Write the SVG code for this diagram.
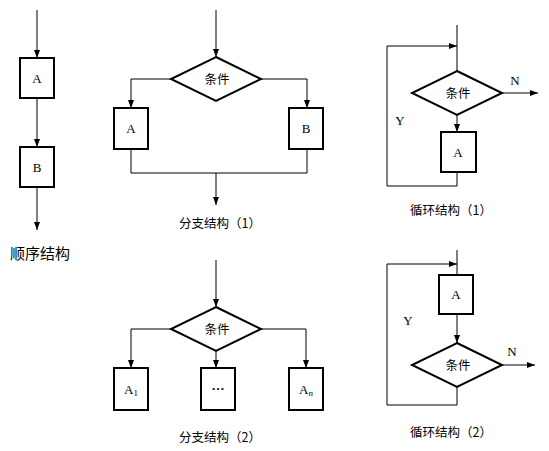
<svg xmlns="http://www.w3.org/2000/svg" width="549" height="451" viewBox="0 0 549 451">
<style>
.box{fill:#fff;stroke:#000;stroke-width:2}
.dia{fill:#fff;stroke:#000;stroke-width:2}
.ln{fill:none;stroke:#000;stroke-width:1}
.lat{font-family:"Liberation Serif",serif;font-size:13px;fill:#000}
.cjk{font-family:"Noto Sans CJK SC",sans-serif;font-size:12.5px;fill:#000}
.cond{font-family:"Noto Sans CJK SC",sans-serif;font-size:12.5px;fill:#000}
</style>
<defs>
<marker id="ar" viewBox="0 0 8 6" refX="8" refY="3" markerWidth="8" markerHeight="6" markerUnits="userSpaceOnUse" orient="auto">
<path d="M0,0 L8,3 L0,6 Z" fill="#000"/>
</marker>
</defs>
<g id="connectors">
<path class="ln" d="M37,10 V58" marker-end="url(#ar)"/>
<path class="ln" d="M37,98 V147" marker-end="url(#ar)"/>
<path class="ln" d="M37,187 V230" marker-end="url(#ar)"/>
<path class="ln" d="M216,10 V57" marker-end="url(#ar)"/>
<path class="ln" d="M171,79 H131 V108" marker-end="url(#ar)"/>
<path class="ln" d="M261,79 H307 V108" marker-end="url(#ar)"/>
<path class="ln" d="M131,149 V173 H307 V149"/>
<path class="ln" d="M216,173 V205" marker-end="url(#ar)"/>
<path class="ln" d="M457,25 V71"/>
<path class="ln" d="M502,93 H538" marker-end="url(#ar)"/>
<path class="ln" d="M457,115 V132" marker-end="url(#ar)"/>
<path class="ln" d="M457,172 V186 H387 V46 H457" marker-end="url(#ar)"/>
<path class="ln" d="M216,260 V307" marker-end="url(#ar)"/>
<path class="ln" d="M171,329 H131 V368" marker-end="url(#ar)"/>
<path class="ln" d="M261,329 H306 V368" marker-end="url(#ar)"/>
<path class="ln" d="M216,351 V368" marker-end="url(#ar)"/>
<path class="ln" d="M457,250 V275"/>
<path class="ln" d="M457,314 V343" marker-end="url(#ar)"/>
<path class="ln" d="M502,365 H535" marker-end="url(#ar)"/>
<path class="ln" d="M457,387 V405 H387 V264 H457" marker-end="url(#ar)"/>
</g>
<g id="seq-A"><rect class="box" x="20" y="58" width="34" height="40"/><text class="lat" x="37" y="83" text-anchor="middle">A</text></g>
<g id="seq-B"><rect class="box" x="20" y="147" width="34" height="40"/><text class="lat" x="37" y="172" text-anchor="middle">B</text></g>
<g id="seq-caption"><text class="cjk" x="40" y="259" text-anchor="middle" style="font-size:15px">顺序结构</text></g>

<g id="b1-cond"><polygon class="dia" points="216,57 261,79 216,101 171,79"/><text class="cond" x="217" y="84" text-anchor="middle">条件</text></g>
<g id="b1-A"><rect class="box" x="114" y="108" width="34" height="41"/><text class="lat" x="131" y="133" text-anchor="middle">A</text></g>
<g id="b1-B"><rect class="box" x="289" y="108" width="34" height="41"/><text class="lat" x="306" y="133" text-anchor="middle">B</text></g>
<g id="b1-caption"><text class="cjk" x="220" y="228" text-anchor="middle">分支结构（1）</text></g>

<g id="l1-cond"><polygon class="dia" points="457,71 502,93 457,115 412,93"/><text class="cond" x="458" y="98" text-anchor="middle">条件</text></g>
<g id="l1-A"><rect class="box" x="441" y="132" width="35" height="40"/><text class="lat" x="458" y="157" text-anchor="middle">A</text></g>
<g id="l1-labels"><text class="lat" x="515" y="85" text-anchor="middle">N</text><text class="lat" x="400" y="125" text-anchor="middle">Y</text></g>
<g id="l1-caption"><text class="cjk" x="451" y="215" text-anchor="middle">循环结构（1）</text></g>

<g id="b2-cond"><polygon class="dia" points="216,307 261,329 216,351 171,329"/><text class="cond" x="217" y="334" text-anchor="middle">条件</text></g>
<g id="b2-A1"><rect class="box" x="114" y="368" width="34" height="42"/><text class="lat" x="131" y="394" text-anchor="middle">A<tspan font-size="9" dy="2">1</tspan></text></g>
<g id="b2-dots"><rect class="box" x="201" y="368" width="34" height="42"/><text class="lat" x="218" y="390" text-anchor="middle" font-weight="bold">…</text></g>
<g id="b2-An"><rect class="box" x="289" y="368" width="34" height="42"/><text class="lat" x="306" y="394" text-anchor="middle">A<tspan font-size="9" dy="2" font-style="italic">n</tspan></text></g>
<g id="b2-caption"><text class="cjk" x="220" y="442" text-anchor="middle">分支结构（2）</text></g>

<g id="l2-A"><rect class="box" x="439" y="275" width="34" height="39"/><text class="lat" x="456" y="299" text-anchor="middle">A</text></g>
<g id="l2-cond"><polygon class="dia" points="457,343 502,365 457,387 412,365"/><text class="cond" x="458" y="370" text-anchor="middle">条件</text></g>
<g id="l2-labels"><text class="lat" x="512" y="356" text-anchor="middle">N</text><text class="lat" x="408" y="325" text-anchor="middle">Y</text></g>
<g id="l2-caption"><text class="cjk" x="451" y="437" text-anchor="middle">循环结构（2）</text></g>
</svg>
